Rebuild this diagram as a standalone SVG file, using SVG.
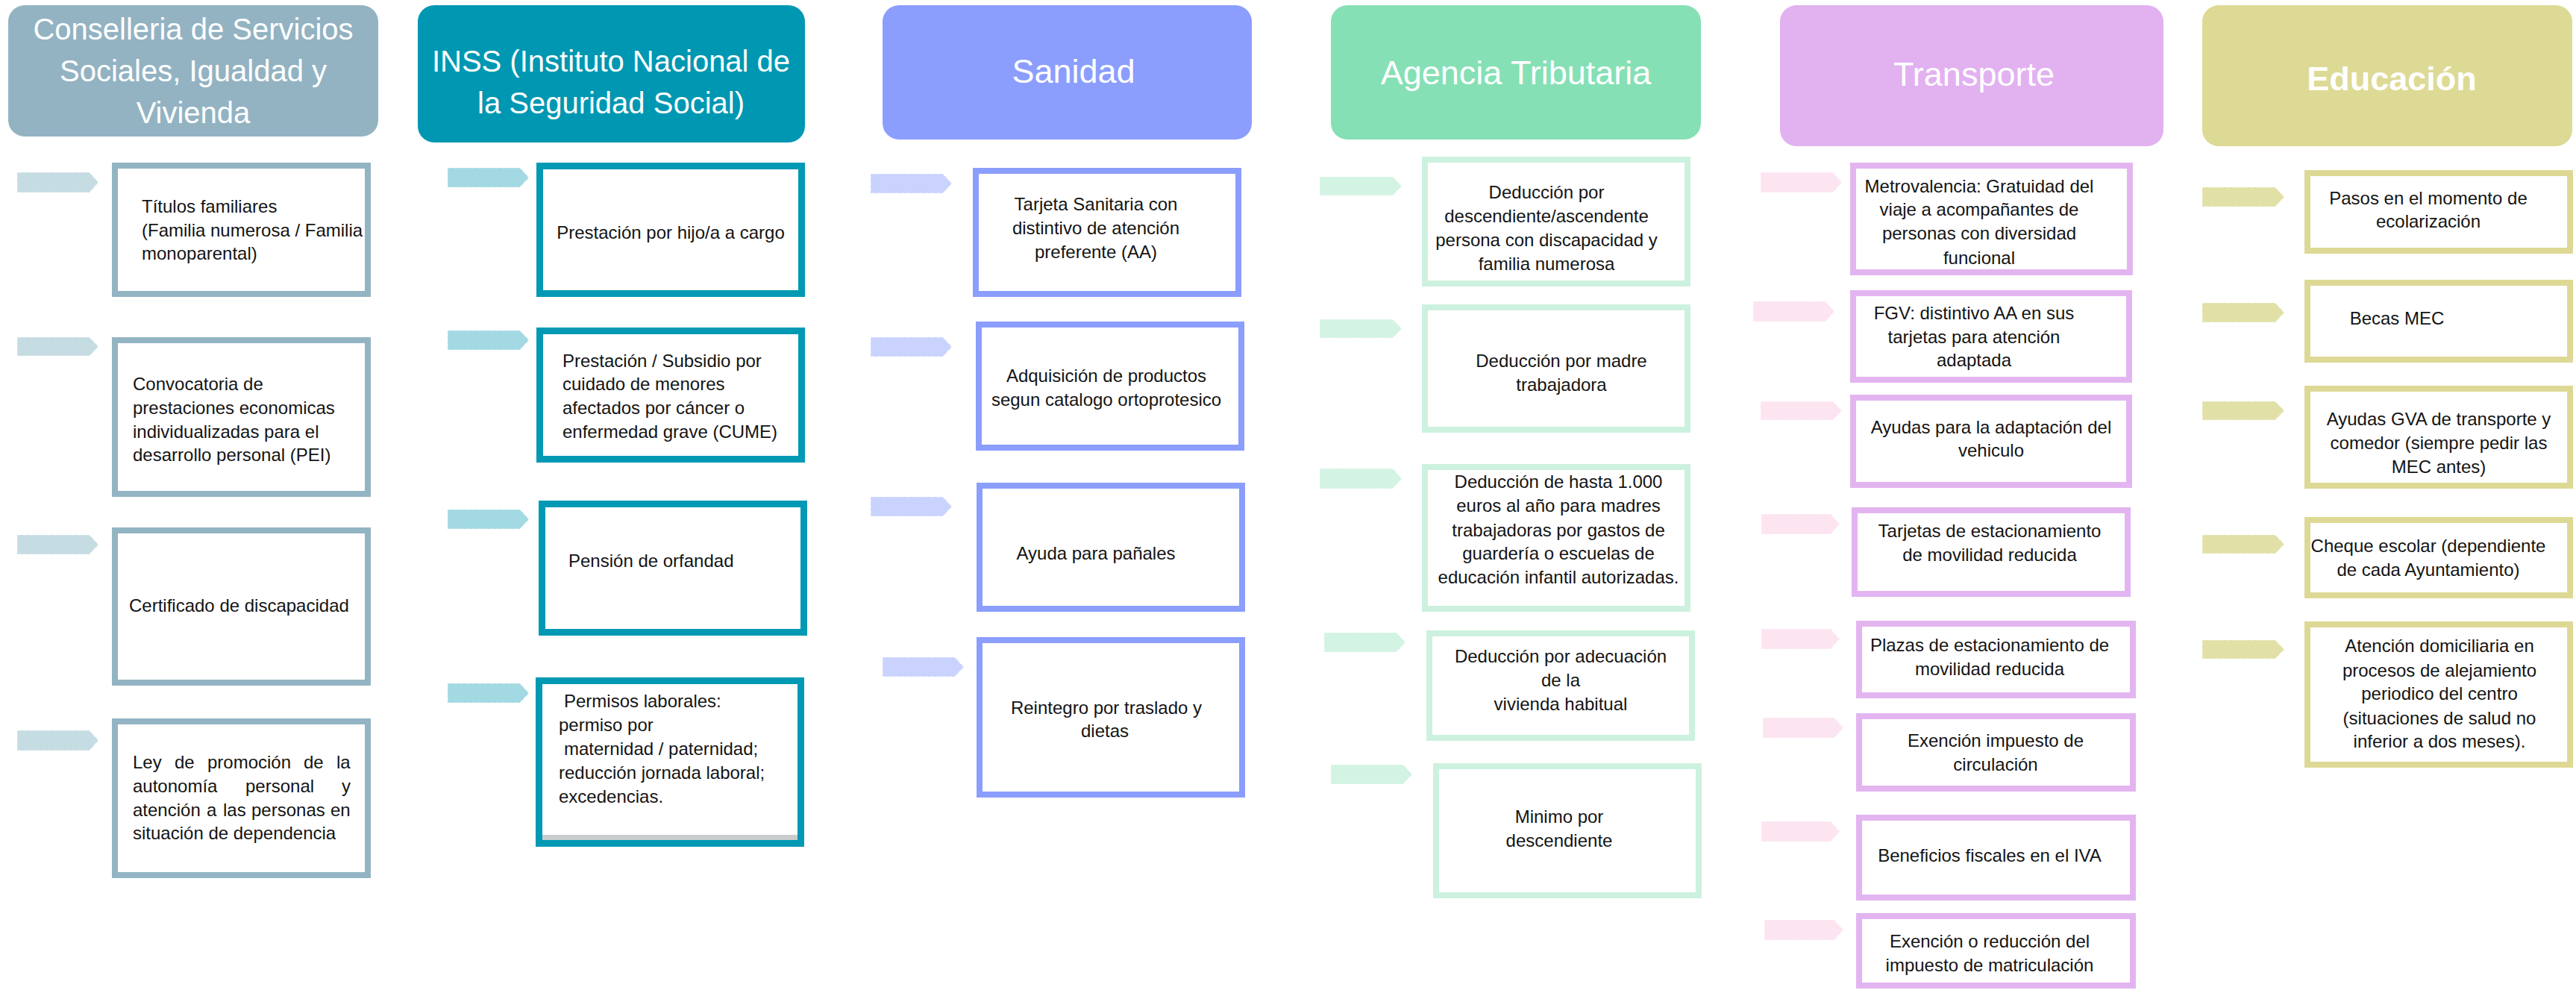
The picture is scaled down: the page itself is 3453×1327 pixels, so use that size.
<svg xmlns="http://www.w3.org/2000/svg" width="3453" height="1327" viewBox="0 0 3453 1327">
<style>
.hd{font-family:"Liberation Sans",Arial,sans-serif;fill:#ffffff;}
.h40{font-size:40px;}
.h45{font-size:45px;}
.t{font-family:"Liberation Sans",Arial,sans-serif;font-size:24px;fill:#141414;}
.m{text-anchor:middle;}
.e{text-anchor:end;}
.box{fill:#ffffff;stroke-width:8;}
.c1{stroke:#93b4c3;} .c2{stroke:#0199b4;stroke-width:9;} .c3{stroke:#8b9efd;} .c4{stroke:#cdf1df;} .c5{stroke:#e3b5f0;} .c6{stroke:#ddd995;}
.ar{stroke:#ffffff;stroke-opacity:0.55;stroke-width:1.2;stroke-dasharray:5 3;}
.a1{fill:#c6dce3;} .a2{fill:#a2d9e3;} .a3{fill:#c9d3fe;} .a4{fill:#d3f3e3;} .a5{fill:#fde4f1;} .a6{fill:#e1e0a6;}
</style>
<rect width="3453" height="1327" fill="#ffffff"/>

<g id="headers">
<g id="h-conselleria"><rect x="11" y="7" width="496" height="176" rx="22" fill="#93b3c2"/>
<text class="hd h40 m" x="259" y="53">Conselleria de Servicios</text>
<text class="hd h40 m" x="259" y="109">Sociales, Igualdad y</text>
<text class="hd h40 m" x="259" y="165">Vivienda</text></g>
<g id="h-inss"><rect x="560" y="7" width="519" height="184" rx="22" fill="#0097b2"/>
<text class="hd h40 m" x="819" y="96">INSS (Instituto Nacional de</text>
<text class="hd h40 m" x="819" y="152">la Seguridad Social)</text></g>
<g id="h-sanidad"><rect x="1183" y="7" width="495" height="180" rx="22" fill="#8b9efd"/>
<text class="hd h45 m" x="1439" y="111">Sanidad</text></g>
<g id="h-agencia"><rect x="1784" y="7" width="496" height="180" rx="22" fill="#86e0b5"/>
<text class="hd h45 m" x="2032" y="113">Agencia Tributaria</text></g>
<g id="h-transporte"><rect x="2386" y="7" width="514" height="189" rx="22" fill="#e2b1f0"/>
<text class="hd h45 m" x="2646" y="115">Transporte</text></g>
<g id="h-educacion"><rect x="2952" y="7" width="496" height="189" rx="22" fill="#ddda95"/>
<text class="hd h45 m" x="3206" y="121" font-weight="bold">Educación</text></g>
</g>

<g id="connectors">
<polygon class="ar a1" points="23,231 120,231 132,244.5 120,258 23,258"/>
<polygon class="ar a1" points="23,452 120,452 132,464.5 120,477 23,477"/>
<polygon class="ar a1" points="23,717 120,717 132,730 120,743 23,743"/>
<polygon class="ar a1" points="23,979 120,979 132,992.5 120,1006 23,1006"/>

<polygon class="ar a2" points="600,225 697,225 709,238 697,251 600,251"/>
<polygon class="ar a2" points="600,443 697,443 709,456 697,469 600,469"/>
<polygon class="ar a2" points="600,683 697,683 709,696 697,709 600,709"/>
<polygon class="ar a2" points="600,916 697,916 709,929 697,942 600,942"/>

<polygon class="ar a3" points="1167,233 1264,233 1276,246 1264,259 1167,259"/>
<polygon class="ar a3" points="1167,452 1264,452 1276,465 1264,478 1167,478"/>
<polygon class="ar a3" points="1167,666 1264,666 1276,679 1264,692 1167,692"/>
<polygon class="ar a3" points="1183,881 1280,881 1292,894 1280,907 1183,907"/>

<polygon class="ar a4" points="1769,237 1867,237 1879,249.5 1867,262 1769,262"/>
<polygon class="ar a4" points="1769,428 1867,428 1879,440.5 1867,453 1769,453"/>
<polygon class="ar a4" points="1769,628 1867,628 1879,641.5 1867,655 1769,655"/>
<polygon class="ar a4" points="1775,848 1872,848 1884,861 1872,874 1775,874"/>
<polygon class="ar a4" points="1784,1025 1881,1025 1893,1038 1881,1051 1784,1051"/>

<polygon class="ar a5" points="2360,231 2457,231 2469,244.5 2457,258 2360,258"/>
<polygon class="ar a5" points="2350,404 2447,404 2459,417.5 2447,431 2350,431"/>
<polygon class="ar a5" points="2360,538 2457,538 2469,550.5 2457,563 2360,563"/>
<polygon class="ar a5" points="2361,689 2454,689 2466,702.5 2454,716 2361,716"/>
<polygon class="ar a5" points="2361,843 2454,843 2466,856.5 2454,870 2361,870"/>
<polygon class="ar a5" points="2363,962 2459,962 2471,975.5 2459,989 2363,989"/>
<polygon class="ar a5" points="2361,1101 2454,1101 2466,1114.5 2454,1128 2361,1128"/>
<polygon class="ar a5" points="2365,1233 2459,1233 2471,1246.5 2459,1260 2365,1260"/>

<polygon class="ar a6" points="2952,251 3050,251 3062,264 3050,277 2952,277"/>
<polygon class="ar a6" points="2952,406 3050,406 3062,419 3050,432 2952,432"/>
<polygon class="ar a6" points="2952,538 3050,538 3062,550.5 3050,563 2952,563"/>
<polygon class="ar a6" points="2952,717 3050,717 3062,729.5 3050,742 2952,742"/>
<polygon class="ar a6" points="2952,858 3050,858 3062,870.5 3050,883 2952,883"/>
</g>

<g id="col1">
<g id="n-titulos"><rect class="box c1" x="154" y="222" width="339" height="172"/>
<text class="t" x="190" y="285">Títulos familiares</text>
<text class="t" x="190" y="317">(Familia numerosa / Familia</text>
<text class="t" x="190" y="348">monoparental)</text></g>
<g id="n-pei"><rect class="box c1" x="154" y="456" width="339" height="206"/>
<text class="t" x="178" y="523">Convocatoria de</text>
<text class="t" x="178" y="555">prestaciones economicas</text>
<text class="t" x="178" y="587">individualizadas para el</text>
<text class="t" x="178" y="618">desarrollo personal (PEI)</text></g>
<g id="n-certificado"><rect class="box c1" x="154" y="711" width="339" height="204"/>
<text class="t" x="173" y="820">Certificado de discapacidad</text></g>
<g id="n-ley"><rect class="box c1" x="154" y="967" width="339" height="206"/>
<text class="t" y="1030"><tspan x="178">Ley</tspan> <tspan x="234">de</tspan> <tspan x="278">promoción</tspan> <tspan x="407">de</tspan> <tspan x="451">la</tspan></text>
<text class="t" y="1062"><tspan x="178">autonomía</tspan> <tspan x="329">personal</tspan> <tspan x="458">y</tspan></text>
<text class="t" y="1094"><tspan x="178">atención</tspan> <tspan x="277">a</tspan> <tspan x="299">las</tspan> <tspan x="337">personas</tspan> <tspan x="443">en</tspan></text>
<text class="t" x="178" y="1125">situación de dependencia</text></g>
</g>

<g id="col2">
<g id="n-hijo"><rect class="box c2" x="723.5" y="222.5" width="351" height="171"/>
<text class="t m" x="899" y="320">Prestación por hijo/a a cargo</text></g>
<g id="n-cume"><rect class="box c2" x="723.5" y="443.5" width="351" height="172"/>
<text class="t" x="754" y="492">Prestación / Subsidio por</text>
<text class="t" x="754" y="523">cuidado de menores</text>
<text class="t" x="754" y="555">afectados por cáncer o</text>
<text class="t" x="754" y="587">enfermedad grave (CUME)</text></g>
<g id="n-orfandad"><rect class="box c2" x="726.5" y="675.5" width="351" height="172"/>
<text class="t" x="762" y="760">Pensión de orfandad</text></g>
<g id="n-permisos"><rect class="box c2" x="722.5" y="912.5" width="351" height="218"/>
<rect x="727" y="1119" width="342" height="7" fill="#c9cccd"/>
<text class="t" x="756" y="948">Permisos laborales:</text>
<text class="t" x="749" y="980">permiso por</text>
<text class="t" x="756" y="1012">maternidad / paternidad;</text>
<text class="t" x="749" y="1044">reducción jornada laboral;</text>
<text class="t" x="749" y="1076">excedencias.</text></g>
</g>

<g id="col3">
<g id="n-tarjeta"><rect class="box c3" x="1308" y="229" width="352" height="165"/>
<text class="t m" x="1469" y="282">Tarjeta Sanitaria con</text>
<text class="t m" x="1469" y="314">distintivo de atención</text>
<text class="t m" x="1469" y="346">preferente (AA)</text></g>
<g id="n-ortoprotesico"><rect class="box c3" x="1312" y="435" width="352" height="165"/>
<text class="t m" x="1483" y="512">Adquisición de productos</text>
<text class="t m" x="1483" y="544">segun catalogo ortoprotesico</text></g>
<g id="n-panales"><rect class="box c3" x="1313" y="651" width="352" height="165"/>
<text class="t m" x="1469" y="750">Ayuda para pañales</text></g>
<g id="n-reintegro"><rect class="box c3" x="1313" y="858" width="352" height="207"/>
<text class="t m" x="1483" y="957">Reintegro por traslado y</text>
<text class="t m" x="1481" y="988">dietas</text></g>
</g>

<g id="col4">
<g id="n-deduccion-desc"><rect class="box c4" x="1910" y="214" width="352" height="166"/>
<text class="t m" x="2073" y="266">Deducción por</text>
<text class="t m" x="2073" y="298">descendiente/ascendente</text>
<text class="t m" x="2073" y="330">persona con discapacidad y</text>
<text class="t m" x="2073" y="362">familia numerosa</text></g>
<g id="n-madre"><rect class="box c4" x="1910" y="412" width="352" height="164"/>
<text class="t m" x="2093" y="492">Deducción por madre</text>
<text class="t m" x="2093" y="524">trabajadora</text></g>
<g id="n-1000"><rect class="box c4" x="1910" y="626" width="352" height="190"/>
<text class="t m" x="2089" y="654">Deducción de hasta 1.000</text>
<text class="t m" x="2089" y="686">euros al año para madres</text>
<text class="t m" x="2089" y="719">trabajadoras por gastos de</text>
<text class="t m" x="2089" y="750">guardería o escuelas de</text>
<text class="t m" x="2089" y="782">educación infantil autorizadas.</text></g>
<g id="n-vivienda"><rect class="box c4" x="1916" y="849" width="352" height="140"/>
<text class="t m" x="2092" y="888">Deducción por adecuación</text>
<text class="t m" x="2092" y="920">de la</text>
<text class="t m" x="2092" y="952">vivienda habitual</text></g>
<g id="n-minimo"><rect class="box c4" x="1925" y="1027" width="352" height="173"/>
<text class="t m" x="2090" y="1103">Minimo por</text>
<text class="t m" x="2090" y="1135">descendiente</text></g>
</g>

<g id="col5">
<g id="n-metro"><rect class="box c5" x="2484" y="222" width="371" height="143"/>
<text class="t m" x="2653" y="258">Metrovalencia: Gratuidad del</text>
<text class="t m" x="2653" y="289">viaje a acompañantes de</text>
<text class="t m" x="2653" y="321">personas con diversidad</text>
<text class="t m" x="2653" y="354">funcional</text></g>
<g id="n-fgv"><rect class="box c5" x="2484" y="393" width="370" height="116"/>
<text class="t m" x="2646" y="428">FGV: distintivo AA en sus</text>
<text class="t m" x="2646" y="460">tarjetas para atención</text>
<text class="t m" x="2646" y="491">adaptada</text></g>
<g id="n-vehiculo"><rect class="box c5" x="2484" y="533" width="370" height="117"/>
<text class="t m" x="2669" y="581">Ayudas para la adaptación del</text>
<text class="t m" x="2669" y="612">vehiculo</text></g>
<g id="n-tarjetas-est"><rect class="box c5" x="2486" y="684" width="366" height="112"/>
<text class="t m" x="2667" y="720">Tarjetas de estacionamiento</text>
<text class="t m" x="2667" y="752">de movilidad reducida</text></g>
<g id="n-plazas"><rect class="box c5" x="2492" y="836" width="367" height="96"/>
<text class="t m" x="2667" y="873">Plazas de estacionamiento de</text>
<text class="t m" x="2667" y="905">movilidad reducida</text></g>
<g id="n-circulacion"><rect class="box c5" x="2492" y="960" width="367" height="97"/>
<text class="t m" x="2675" y="1001">Exención impuesto de</text>
<text class="t m" x="2675" y="1033">circulación</text></g>
<g id="n-iva"><rect class="box c5" x="2492" y="1096" width="367" height="107"/>
<text class="t m" x="2667" y="1155">Beneficios fiscales en el IVA</text></g>
<g id="n-matriculacion"><rect class="box c5" x="2492" y="1228" width="367" height="93"/>
<text class="t m" x="2667" y="1270">Exención o reducción del</text>
<text class="t m" x="2667" y="1302">impuesto de matriculación</text></g>
</g>

<g id="col6">
<g id="n-pasos"><rect class="box c6" x="3093" y="232" width="352" height="104"/>
<text class="t m" x="3255" y="274">Pasos en el momento de</text>
<text class="t m" x="3255" y="305">ecolarización</text></g>
<g id="n-becas"><rect class="box c6" x="3093" y="379" width="352" height="103"/>
<text class="t m" x="3213" y="435">Becas MEC</text></g>
<g id="n-gva"><rect class="box c6" x="3093" y="521" width="352" height="130"/>
<text class="t m" x="3269" y="570">Ayudas GVA de transporte y</text>
<text class="t m" x="3269" y="602">comedor (siempre pedir las</text>
<text class="t m" x="3269" y="634">MEC antes)</text></g>
<g id="n-cheque"><rect class="box c6" x="3093" y="697" width="352" height="101"/>
<text class="t m" x="3255" y="740">Cheque escolar (dependiente</text>
<text class="t m" x="3255" y="772">de cada Ayuntamiento)</text></g>
<g id="n-domiciliaria"><rect class="box c6" x="3093" y="837" width="352" height="188"/>
<text class="t m" x="3270" y="874">Atención domiciliaria en</text>
<text class="t m" x="3270" y="907">procesos de alejamiento</text>
<text class="t m" x="3270" y="938">periodico del centro</text>
<text class="t m" x="3270" y="971">(situaciones de salud no</text>
<text class="t m" x="3270" y="1002">inferior a dos meses).</text></g>
</g>
</svg>
